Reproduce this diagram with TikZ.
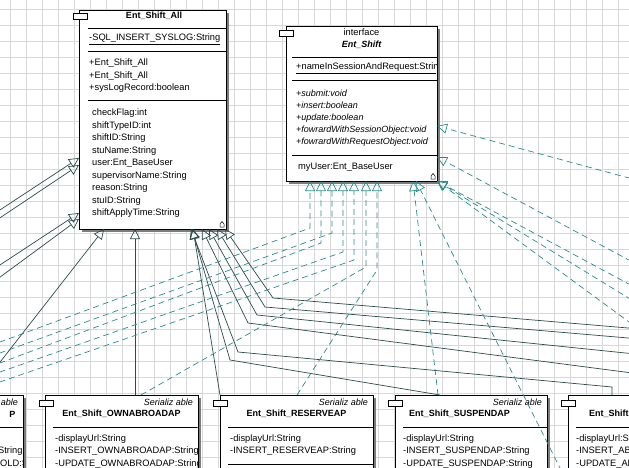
\documentclass[tikz,border=0pt]{standalone}
\usepackage{fontspec}
\setmainfont{Liberation Sans}
\usetikzlibrary{positioning,arrows.meta}

\definecolor{gridcol}{RGB}{216,216,216}
\definecolor{inhcol}{RGB}{44,76,76}
\definecolor{impcol}{RGB}{40,140,140}
\definecolor{shadowcol}{RGB}{125,125,125}

\tikzset{
  classbox/.style={draw=black,fill=white,line width=0.9pt,inner sep=0pt,anchor=north west},
  shadowbox/.style={fill=shadowcol,draw=none,inner sep=0pt,anchor=north west},
  tab/.style={draw=black,fill=white,line width=0.8pt,minimum width=14pt,minimum height=6pt,inner sep=0pt},
  ttl/.style={font=\fontsize{9}{10}\selectfont\bfseries,inner sep=0pt},
  mem/.style={font=\fontsize{9.3}{10}\selectfont,inner sep=0pt,anchor=west},
  ster/.style={font=\fontsize{9}{10}\selectfont\itshape,inner sep=0pt,anchor=east},
  sep/.style={line width=0.7pt},
  inherit/.style={draw=inhcol,line width=0.7pt,-{Triangle[open,length=10pt,width=10pt]}},
  realize/.style={draw=impcol,line width=0.7pt,dash pattern=on 6pt off 4pt,-{Triangle[open,length=10pt,width=10pt]}},
}

\begin{document}
\begin{tikzpicture}[x=1pt,y=-1pt]
\useasboundingbox (0,0) rectangle (629,468);
\clip (0,0) rectangle (629,468);
\fill[white] (0,0) rectangle (629,468);
% grid
\foreach \gx in {10,26,...,626} \draw[gridcol,line width=0.6pt] (\gx,0) -- (\gx,468);
\foreach \gy in {9,25,...,466} \draw[gridcol,line width=0.6pt] (0,\gy) -- (629,\gy);

% Ent_Shift_All
\node[shadowbox,minimum width=147pt,minimum height=219pt] (allsh) at (82,13) {};
\node[classbox,minimum width=147pt,minimum height=219pt] (all) at (79,10) {};
\node[tab] (alltab) at (80,16) {};
\node[ttl] (allname) at (154,16) {Ent\_Shift\_All};
\draw[sep] (88,28) -- (226,28);
\node[mem] (allc1) at (89,39) {\underline{-SQL\_INSERT\_SYSLOG:String}};
\draw[sep] (88,51) -- (226,51);
\node[mem] (allo1) at (89,63.5) {+Ent\_Shift\_All};
\node[mem] (allo2) at (89,76) {+Ent\_Shift\_All};
\node[mem] (allo3) at (89,88.5) {+sysLogRecord:boolean};
\draw[sep] (88,100) -- (226,100);
\foreach \t [count=\i] in {checkFlag:int,shiftTypeID:int,shiftID:String,stuName:String,user:Ent\_BaseUser,supervisorName:String,reason:String,stuID:String,shiftApplyTime:String}
  \node[mem] (allf\i) at (92,{100.5+12.55*\i}) {\t};
\draw[line width=0.5pt] (220,227) -- (224,227) -- (224,224) -- (222,221.5) -- (220,224) -- cycle;

% Ent_Shift (interface)
\node[shadowbox,minimum width=151pt,minimum height=155pt] (ifsh) at (289,29) {};
\node[classbox,minimum width=151pt,minimum height=155pt] (iface) at (286,26) {};
\node[tab] (iftab) at (286,33) {};
\node[mem,anchor=center] (ifster) at (361.5,32) {interface};
\node[ttl,font=\fontsize{9}{10}\selectfont\bfseries\itshape] (ifname) at (361.5,44.5) {Ent\_Shift};
\draw[sep] (292,57) -- (437,57);
\begin{scope}
  \clip (286,26) rectangle (436,181);
  \node[mem] (ifc1) at (296,68) {\underline{+nameInSessionAndRequest:String}};
\end{scope}
\draw[sep] (292,80) -- (437,80);
\foreach \t [count=\i] in {+submit:void,+insert:boolean,+update:boolean,+fowrardWithSessionObject:void,+fowrardWithRequestObject:void}
  \node[mem,font=\fontsize{9}{10}\selectfont\itshape] (ifo\i) at (296,{80.5+12.4*\i}) {\t};
\draw[sep] (292,155) -- (437,155);
\node[mem] (iff1) at (298,167.5) {myUser:Ent\_BaseUser};
\draw[line width=0.5pt] (431,179) -- (435,179) -- (435,176) -- (433,173.5) -- (431,176) -- cycle;

% bottom row
\node[shadowbox,minimum width=153pt,minimum height=100pt] (lftsh) at (-127,398) {};
\node[classbox,minimum width=153pt,minimum height=100pt] (lft) at (-130,395) {};
\begin{scope}
  \clip (-130,395) rectangle (22.5,500);
  \node[ster] (lftster) at (18,402) {able};
  \node[ttl,anchor=east] (lftname) at (15.5,414) {P};
  \draw[sep] (-120,427) -- (23,427);
  \node[mem] (lftm2) at (-2,451.5) {String};
  \node[mem] (lftm3) at (0,464) {OLD:String};
\end{scope}

\node[shadowbox,minimum width=153pt,minimum height=100pt] (ownsh) at (48,398) {};
\node[classbox,minimum width=153pt,minimum height=100pt] (own) at (45,395) {};
\node[tab] (owntab) at (46,403.5) {};
\begin{scope}
  \clip (45,395) rectangle (197.5,500);
  \node[ster] (ownster) at (193,402) {Serializ able};
  \node[ttl] (ownname) at (121.5,414) {Ent\_Shift\_OWNABROADAP};
  \draw[sep] (53,427) -- (198,427);
  \node[mem] (ownm1) at (55,439) {-displayUrl:String};
  \node[mem] (ownm2) at (55,451.5) {-INSERT\_OWNABROADAP:String};
  \node[mem] (ownm3) at (55,464) {-UPDATE\_OWNABROADAP:String};
\end{scope}

\node[shadowbox,minimum width=153pt,minimum height=100pt] (ressh) at (223,398) {};
\node[classbox,minimum width=153pt,minimum height=100pt] (res) at (220,395) {};
\node[tab] (restab) at (220,403.5) {};
\node[ster] (resster) at (368,402) {Serializ able};
\node[ttl] (resname) at (296.5,414) {Ent\_Shift\_RESERVEAP};
\draw[sep] (228,427) -- (373,427);
\node[mem] (resm1) at (230,439) {-displayUrl:String};
\node[mem] (resm2) at (230,451.5) {-INSERT\_RESERVEAP:String};
\draw[sep] (228,464) -- (373,464);

\node[shadowbox,minimum width=152pt,minimum height=100pt] (sussh) at (398,398) {};
\node[classbox,minimum width=152pt,minimum height=100pt] (sus) at (395,395) {};
\node[tab] (sustab) at (395,403.5) {};
\node[ster] (susster) at (542,402) {Serializ able};
\node[ttl] (susname) at (459.5,414) {Ent\_Shift\_SUSPENDAP};
\draw[sep] (403,427) -- (547,427);
\begin{scope}
  \clip (395,395) rectangle (546.5,500);
  \node[mem] (susm1) at (403,439) {-displayUrl:String};
  \node[mem] (susm2) at (403,451.5) {-INSERT\_SUSPENDAP:String};
  \node[mem] (susm3) at (403,464) {-UPDATE\_SUSPENDAP:String};
\end{scope}

\node[shadowbox,minimum width=153pt,minimum height=100pt] (rgtsh) at (571,398) {};
\node[classbox,minimum width=153pt,minimum height=100pt] (rgt) at (568,395) {};
\node[tab] (rgttab) at (568,403.5) {};
\node[ttl,anchor=west] (rgtname) at (589,414) {Ent\_Shift};
\draw[sep] (576,427) -- (629,427);
\node[mem] (rgtm1) at (576,439) {-displayUrl:String};
\node[mem] (rgtm2) at (576,451.5) {-INSERT\_AB};
\node[mem] (rgtm3) at (576,464) {-UPDATE\_AB};

% generalization ends
\coordinate (s1) at (-10,216.5);  \coordinate (t1) at (79,158);
\coordinate (s2) at (-10,224.5);  \coordinate (t2) at (79,165);
\coordinate (s3) at (-10,271.5);  \coordinate (t3) at (79,213);
\coordinate (s4) at (-10,284.5);  \coordinate (t4) at (79,219);
\coordinate (s5) at (-10,375);    \coordinate (t5) at (104,229);
\coordinate (s6) at (135,395);    \coordinate (t6) at (135,229);
\coordinate (s7) at (220,395);    \coordinate (t7) at (193,229);
\coordinate (s8) at (440,395);    \coordinate (b8) at (230,360);  \coordinate (t8) at (192,229);
\coordinate (s9) at (612,395);    \coordinate (c9) at (612,387);  \coordinate (b9) at (238,352); \coordinate (t9) at (191,229);
\coordinate (s10) at (640,374);   \coordinate (b10) at (248,323); \coordinate (t10) at (202,229);
\coordinate (s11) at (640,354.5); \coordinate (b11) at (257,315); \coordinate (t11) at (209,229);
\coordinate (s12) at (640,339);   \coordinate (b12) at (265,307); \coordinate (t12) at (217,229);
\coordinate (s13) at (640,329);   \coordinate (b13) at (273,298); \coordinate (t13) at (225,229);

% realization ends
\coordinate (r1) at (-10,345.7); \coordinate (e1) at (310,228); \coordinate (i1) at (310,181);
\coordinate (r2) at (-10,366.7); \coordinate (e2) at (321,243); \coordinate (i2) at (321,181);
\coordinate (r3) at (-10,356.6); \coordinate (e3) at (332,233); \coordinate (i3) at (332,181);
\coordinate (r4) at (-10,375.5); \coordinate (e4) at (343,252); \coordinate (i4) at (343,181);
\coordinate (r5) at (-10,385.4); \coordinate (e5) at (354,260); \coordinate (i5) at (354,181);
\coordinate (r6) at (141,395);   \coordinate (e6) at (366,267); \coordinate (i6) at (366,181);
\coordinate (r7) at (297,395);   \coordinate (e7) at (377,270); \coordinate (i7) at (377,181);
\coordinate (r8) at (438,395);   \coordinate (i8) at (413,181);
\coordinate (r9) at (566,480);   \coordinate (i9) at (416,181);
\coordinate (q1) at (640,181);   \coordinate (j1) at (437,126);
\coordinate (q2) at (640,266);   \coordinate (j2) at (437,157);
\coordinate (q3) at (640,290);   \coordinate (q4) at (640,305); \coordinate (q5) at (640,330);
\coordinate (j3) at (437,181);

\draw[inherit] (s1) -- (t1);
\draw[inherit] (s2) -- (t2);
\draw[inherit] (s3) -- (t3);
\draw[inherit] (s4) -- (t4);
\draw[inherit] (s5) -- (t5);
\draw[inherit] (s6) -- (t6);
\draw[inherit] (s7) -- (t7);
\draw[inherit] (s8) -- (b8) -- (t8);
\draw[inherit] (s9) -- (c9) -- (b9) -- (t9);
\draw[inherit] (s10) -- (b10) -- (t10);
\draw[inherit] (s11) -- (b11) -- (t11);
\draw[inherit] (s12) -- (b12) -- (t12);
\draw[inherit] (s13) -- (b13) -- (t13);

\foreach \k in {1,...,7}
  \draw[realize] (r\k) -- (e\k) -- (i\k);
\draw[realize] (r8) -- (i8);
\draw[realize] (r9) -- (i9);
\draw[realize] (q1) -- (j1);
\draw[realize] (q2) -- (j2);
\draw[realize] (q3) -- (j3);
\draw[realize] (q4) -- (j3);
\draw[realize] (q5) -- (j3);
\end{tikzpicture}
\end{document}
